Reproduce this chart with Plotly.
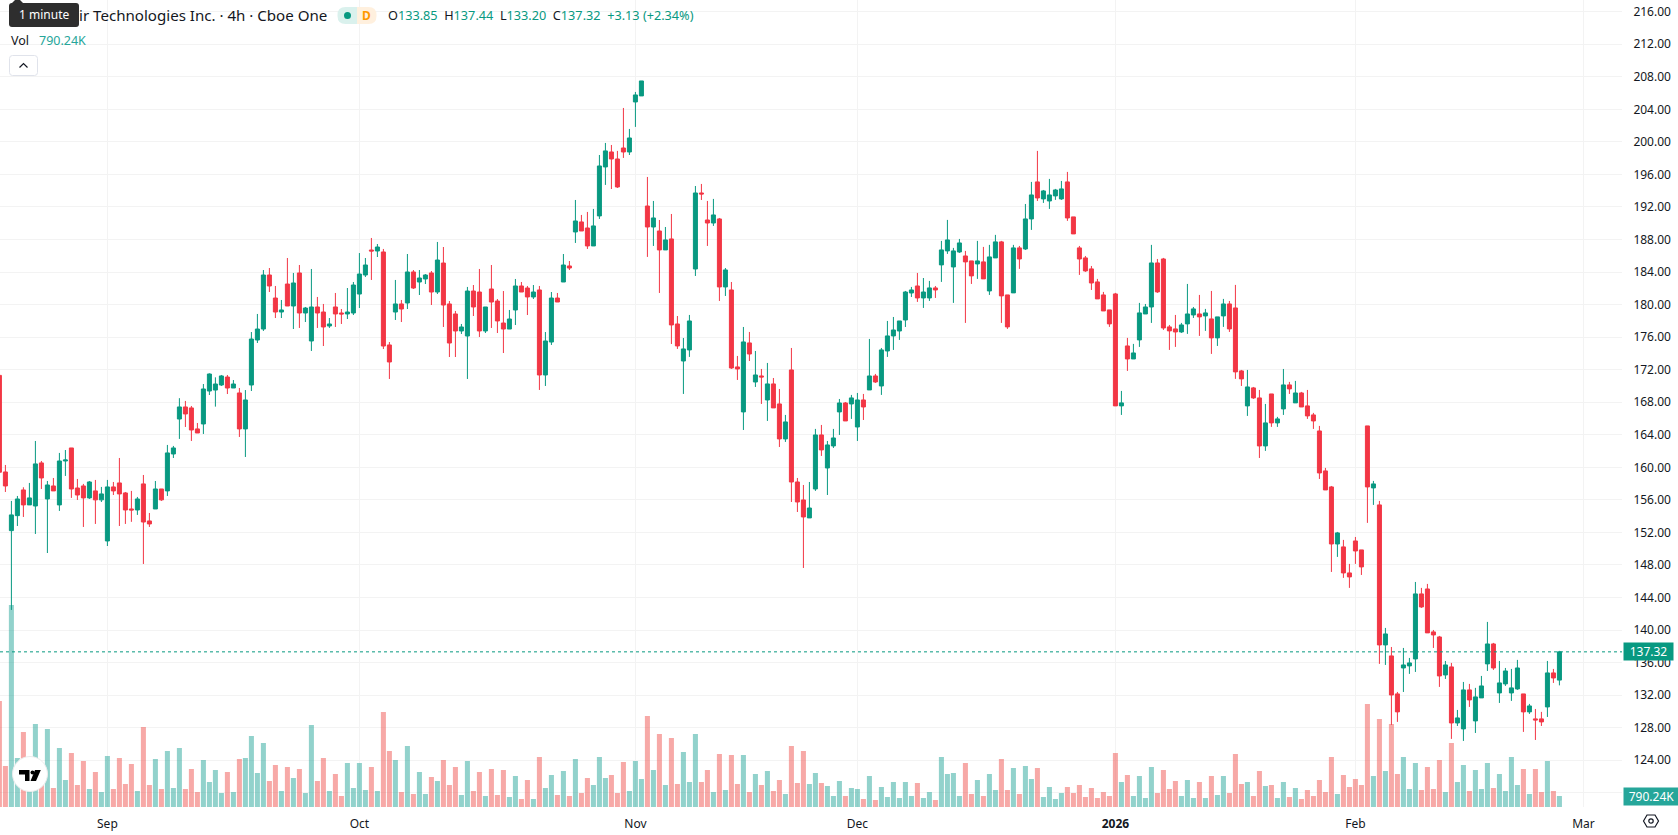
import plotly.graph_objects as go

# 4h bars, oldest first
opens = [
171.3,159.43,152.22,154.06,157.22,155.38,155.25,160.54,156.11,157.71,
155.38,160.78,162.38,157.46,157.71,156.24,157.1,156.0,150.95,157.59,
158.08,156.85,154.88,154.76,157.96,153.41,154.88,157.34,157.1,161.64,
165.94,167.42,167.3,164.72,165.33,169.38,169.5,170.12,171.1,169.75,
169.14,164.72,170.12,175.65,177.0,183.64,180.81,179.09,182.53,179.83,
183.89,178.97,175.53,179.71,179.09,177.37,179.71,178.97,178.85,178.97,
181.3,183.64,186.71,186.59,186.47,175.04,179.09,180.08,180.2,184.01,
182.78,183.15,183.89,181.55,185.11,180.08,178.85,176.76,176.14,181.67,
181.55,176.76,181.92,180.44,177.74,177.0,179.34,182.29,182.04,180.94,
181.8,171.35,175.4,180.81,182.78,184.75,188.93,190.16,189.42,187.21,
190.9,196.92,198.76,197.9,199.25,198.76,204.91,205.65,192.12,189.54,
189.05,186.72,188.07,177.62,173.07,174.43,184.38,193.72,190.4,190.03,
190.53,182.17,181.8,172.34,166.81,175.29,170.49,171.23,168.28,170.25,
167.79,163.49,171.97,158.2,155.99,153.78,157.34,163.98,159.92,162.63,
166.81,167.91,167.79,164.96,168.28,169.51,171.23,170.0,174.3,176.15,
176.76,178.11,181.43,182.29,180.82,180.82,182.05,184.88,186.6,184.63,
186.47,185.98,185.37,185.0,185.25,181.68,185.74,187.71,181.19,181.44,
186.97,186.84,190.53,195.08,192.99,192.74,193.36,192.99,195.08,190.78,
186.97,185.74,184.39,182.79,181.19,179.35,181.31,167.55,174.92,173.32,
175.66,178.85,179.71,185.12,185.61,177.26,177.01,176.64,177.63,178.73,
178.85,178.61,178.24,175.91,178.61,180.08,179.59,171.85,167.55,169.76,
168.53,162.63,169.02,165.46,167.18,170.13,167.92,169.14,167.55,166.44,
164.47,159.56,157.59,150.58,150.22,147.02,150.95,149.85,165.09,157.47,
155.38,138.17,136.82,132.15,135.34,135.59,136.45,144.44,145.05,139.77,
139.15,134.48,135.47,128.58,127.85,132.64,128.83,131.66,135.84,138.29,
132.27,133.38,132.27,132.76,132.15,129.94,129.08,129.08,130.55,134.73,
133.85]

highs = [
171.3,160.29,155.87,156.48,157.55,158.08,163.24,160.78,158.32,158.69,
161.77,162.13,162.38,158.57,157.96,158.32,158.45,157.59,158.45,158.2,
161.15,156.97,157.1,156.36,159.06,154.39,158.32,157.34,162.75,162.63,
168.5,168.16,167.54,165.45,170.24,171.55,171.06,171.35,171.35,170.73,
169.75,169.5,176.63,178.85,184.25,184.5,182.29,180.57,185.73,183.89,
184.87,179.71,184.38,180.94,180.08,178.35,181.43,179.46,182.04,182.78,
186.34,185.73,188.19,187.45,186.84,175.4,183.03,180.57,186.22,184.25,
184.25,183.76,184.13,187.7,187.08,180.44,179.22,177.62,182.17,182.41,
184.38,179.71,184.87,180.69,181.67,179.34,183.15,182.78,182.29,182.41,
182.29,176.63,181.55,181.43,186.22,185.36,192.86,191.02,191.39,191.76,
198.39,199.87,199.62,198.89,204.17,201.59,206.14,207.49,195.69,192.74,
190.4,189.54,191.14,178.6,175.9,178.73,194.58,194.83,192.74,192.99,
190.65,184.5,182.78,173.69,177.25,176.64,174.3,172.09,172.83,170.98,
169.63,166.44,174.67,158.69,157.83,158.2,164.72,165.21,163.24,164.72,
168.4,168.03,168.9,169.14,169.02,175.78,171.48,174.67,177.99,178.48,
177.99,181.68,182.17,183.89,183.27,182.91,182.29,187.83,190.41,186.97,
188.07,186.6,185.37,187.83,187.09,187.34,188.57,187.83,181.19,187.34,
187.21,192.37,195.08,198.89,194.09,195.45,194.22,195.2,196.31,190.78,
187.21,185.98,184.75,183.16,181.56,179.35,181.44,169.39,175.91,175.17,
180.21,180.08,187.34,185.61,185.74,177.5,178.73,177.75,182.54,179.71,
181.19,179.47,181.68,178.49,180.7,180.45,182.42,171.97,171.97,169.88,
169.51,167.79,169.02,166.2,172.09,170.5,170.62,169.27,169.51,166.69,
165.09,159.93,157.71,152.06,151.08,148.13,151.44,149.85,165.09,158.33,
155.87,140.26,137.92,132.39,137.8,136.57,145.91,145.18,145.67,140.01,
139.28,136.2,135.96,130.18,133.62,133.38,132.89,134.36,141.0,138.42,
136.2,135.34,135.22,136.33,132.15,130.92,130.3,129.94,136.2,135.22,
137.44]

lows = [
159.0,156.97,142.47,152.79,153.9,155.38,151.81,157.34,149.47,157.1,
154.64,158.94,156.24,155.99,152.67,156.11,153.04,155.74,150.33,156.6,
152.79,153.04,153.3,154.15,148.12,152.67,154.88,155.87,156.48,161.15,
163.49,164.96,163.24,164.22,164.1,168.89,167.46,170.0,169.01,169.75,
163.73,161.27,169.38,175.28,176.76,181.55,178.35,178.35,179.83,177.0,
177.13,177.86,174.3,177.13,174.91,177.13,177.25,177.62,178.23,178.72,
179.58,183.39,183.03,185.85,174.54,170.86,178.11,177.86,179.46,181.92,
181.18,182.53,179.95,181.3,177.25,173.56,173.56,176.39,170.86,178.6,
176.02,176.51,177.13,176.51,174.05,177.0,177.49,181.55,178.72,180.69,
169.51,170.0,175.04,180.32,182.78,184.25,187.58,189.05,186.84,187.21,
190.53,194.71,194.21,194.34,198.03,198.39,201.84,205.65,185.86,187.21,
181.43,186.72,175.16,174.55,169.02,173.57,183.52,192.86,187.21,189.67,
180.45,181.06,172.09,170.74,164.59,173.07,169.88,167.79,165.7,167.3,
162.5,163.12,155.74,154.51,147.63,153.78,157.1,161.4,156.6,162.38,
163.98,165.7,165.95,163.24,165.82,169.51,170.37,168.9,173.57,174.43,
175.66,177.25,180.94,180.33,179.59,180.45,180.82,182.79,186.23,180.21,
186.35,177.75,182.54,183.16,183.16,181.19,185.74,177.75,177.01,181.44,
184.39,186.72,189.18,192.74,192.5,191.76,192.87,192.87,190.29,188.69,
183.65,184.02,181.8,180.7,179.22,177.26,167.55,166.44,171.85,173.32,
174.8,178.85,177.75,181.44,176.89,174.43,174.8,176.52,176.4,178.36,
176.15,176.77,173.94,174.92,177.26,176.64,170.87,170.0,166.32,168.41,
161.15,162.02,164.97,164.97,166.44,169.02,167.92,167.42,165.95,164.72,
158.57,157.22,147.14,148.99,146.41,145.18,148.13,146.77,153.17,155.38,
135.84,135.71,128.34,128.71,132.39,134.61,134.85,142.72,139.65,137.8,
133.01,133.99,126.62,128.21,126.37,130.55,127.35,131.66,134.97,135.1,
131.04,133.13,131.29,132.64,127.48,129.69,126.49,128.21,129.32,133.5,
133.2]

closes = [
159.4,157.71,154.15,156.11,155.38,156.24,160.42,158.69,157.83,157.1,
160.78,160.9,157.34,156.6,156.24,158.2,156.0,156.73,157.59,157.1,
156.73,154.76,154.76,156.11,153.28,153.04,157.34,156.0,161.77,162.38,
167.42,166.56,164.59,164.22,169.63,171.47,170.24,171.23,169.75,170.24,
164.72,168.28,175.77,177.0,183.64,182.29,179.09,179.34,179.83,182.66,
178.97,179.58,179.71,178.97,177.25,177.62,178.85,178.85,179.09,182.41,
183.76,184.87,186.59,187.08,174.91,172.95,180.08,179.46,184.01,182.04,
183.27,183.64,181.55,185.48,179.95,175.28,176.76,177.25,181.67,179.71,
176.76,179.71,180.32,177.99,177.0,178.23,182.29,181.55,180.94,181.55,
171.35,175.53,180.81,180.32,184.87,184.5,190.28,189.05,187.21,189.67,
197.04,198.89,197.9,194.46,198.76,200.48,205.77,207.49,189.54,190.65,
186.72,187.95,177.5,174.92,174.55,177.99,193.72,193.6,190.03,191.02,
182.17,184.26,172.21,172.09,175.41,173.93,171.35,171.11,170.25,167.3,
163.49,165.58,158.2,155.74,153.9,155.0,163.98,162.14,162.75,163.61,
167.91,165.7,168.53,168.28,167.42,171.23,170.49,174.43,176.15,176.88,
177.99,181.55,181.8,180.82,181.55,182.05,181.8,186.72,187.95,186.6,
187.58,185.25,183.53,185.37,183.16,185.86,187.71,181.07,177.26,186.97,
185.61,190.53,193.48,193.11,193.97,193.48,194.09,194.22,190.65,188.69,
185.61,184.14,182.66,180.7,179.22,177.63,167.55,167.92,173.32,174.06,
178.98,179.71,185.12,181.56,177.13,176.77,176.64,177.5,178.85,179.47,
178.49,178.98,175.91,178.49,180.08,177.01,171.73,170.87,169.88,168.53,
162.63,165.46,165.46,165.95,170.13,169.64,169.14,167.42,166.32,165.7,
159.31,157.22,150.58,151.94,147.02,146.53,149.72,147.76,157.59,157.96,
138.17,139.52,132.02,129.94,135.71,135.96,144.44,142.84,139.65,139.4,
134.36,135.71,128.58,129.2,132.64,131.41,131.78,133.13,138.29,135.34,
133.5,134.97,132.89,135.34,129.94,130.67,128.95,128.71,134.73,134.11,
137.32]

# Volume per bar, in thousands of shares
volumes = [
7632,2952,14544,3528,5400,1584,5976,2184,5616,1368,
4248,1944,3888,1584,3312,1296,2520,1080,3672,1296,
3528,1656,3096,1152,5760,1584,3456,1296,4032,1368,
4248,1296,2736,1080,3384,1800,2664,1008,2520,1080,
3456,3528,5112,2448,4608,1872,3024,1152,2880,2088,
2736,1008,5904,1872,3528,1152,2376,792,3168,1368,
3168,1224,2880,1152,6840,4032,3384,1080,4392,936,
2520,936,2160,1872,3384,1584,2880,864,3312,1152,
2520,792,2736,864,2664,720,2232,576,1944,576,
3600,1368,2304,864,2592,792,3456,1008,2088,1584,
3600,2088,2304,1008,3240,1152,3312,2016,6552,2664,
5256,1584,4968,1656,3960,1800,5256,1800,2664,1080,
3816,1224,3744,1656,3744,1080,2376,1584,2592,1152,
1944,936,4392,1728,4032,1656,2448,1728,1512,792,
1872,792,1368,1296,576,2232,504,1440,720,1800,
648,1800,792,1728,648,1080,504,3600,2376,2448,
792,3168,936,1944,792,2376,1224,3456,1224,2808,
936,2952,2016,2808,720,1440,576,1008,1440,1008,
1584,720,1368,648,1080,792,3888,1800,2304,792,
2232,648,2880,1008,2664,1296,1872,792,1944,648,
1800,648,2232,864,2232,1008,3816,1656,1800,792,
2592,1512,1584,648,1800,720,1368,576,1224,792,
1944,1080,3600,936,2304,1440,2016,1584,7416,2232,
6336,2592,5976,2376,3600,1296,3168,1224,2880,1296,
3384,1080,4608,1800,3024,1152,2664,1296,3168,1368,
2376,1152,3600,1584,2736,936,2736,1080,3312,1152,
790.24]

assert len(opens) == len(highs) == len(lows) == len(closes) == len(volumes) == 261

bar_index = list(range(len(opens)))

month_positions = [18, 60, 106, 143, 186, 226, 264]
month_labels = ["Sep", "Oct", "Nov", "Dec", "<b>2026</b>", "Feb", "Mar"]
price_ticks = list(range(120, 217, 4))
price_labels = ["" if p == 120 else f"{p}.00" for p in price_ticks]

last_close = closes[-1]

UP = "#089981"
DOWN = "#F23645"
VOL_UP = "rgba(38,166,154,0.5)"
VOL_DOWN = "rgba(239,83,80,0.5)"
TEXT = "#131722"
GRID = "#f3f3f3"
FONT = "Noto Sans, sans-serif"

WIDTH, HEIGHT = 1678, 835
PANE_W, PANE_H = 1622, 807


def px(x):
    return x / PANE_W


def py(y):
    return 1 - y / PANE_H


def rounded_path(x0, y0, x1, y1, r_left, r_right):
    """Rounded rectangle in pane pixels, returned as a paper-space SVG path."""
    return (
        f"M{px(x0 + r_left)},{py(y0)} L{px(x1 - r_right)},{py(y0)} "
        f"Q{px(x1)},{py(y0)} {px(x1)},{py(y0 + r_right)} "
        f"L{px(x1)},{py(y1 - r_right)} Q{px(x1)},{py(y1)} {px(x1 - r_right)},{py(y1)} "
        f"L{px(x0 + r_left)},{py(y1)} Q{px(x0)},{py(y1)} {px(x0)},{py(y1 - r_left)} "
        f"L{px(x0)},{py(y0 + r_left)} Q{px(x0)},{py(y0)} {px(x0 + r_left)},{py(y0)} Z"
    )


def poly_path(points, close=True):
    body = " L".join(f"{px(a)},{py(b)}" for a, b in points)
    return "M" + body + (" Z" if close else "")


def paper_shape(path, fill="rgba(0,0,0,0)", line=None, width=0):
    return dict(
        type="path", xref="paper", yref="paper", path=path, fillcolor=fill,
        line=dict(color=line or "rgba(0,0,0,0)", width=width), layer="above",
    )


fig = go.Figure()

# Volume stays on the base axis so the candles draw over it
fig.add_trace(go.Bar(
    x=bar_index, y=volumes, width=0.84, yaxis="y",
    marker=dict(color=[VOL_UP if c >= o else VOL_DOWN for o, c in zip(opens, closes)],
                line=dict(width=0)),
    hoverinfo="skip", showlegend=False,
))

fig.add_trace(go.Candlestick(
    x=bar_index, open=opens, high=highs, low=lows, close=closes, yaxis="y2",
    whiskerwidth=0,
    increasing=dict(line=dict(color=UP, width=1), fillcolor=UP),
    decreasing=dict(line=dict(color=DOWN, width=1), fillcolor=DOWN),
    showlegend=False,
))

shapes = [
    # last price line
    dict(type="line", xref="paper", yref="y2", x0=0, x1=1, y0=last_close, y1=last_close,
         line=dict(color=UP, width=1, dash="dot"), layer="above"),
    # status pill
    paper_shape(rounded_path(337.5, 7, 357, 24, 8, 0), fill="#daf1ed"),
    paper_shape(rounded_path(357, 7, 376.5, 24, 0, 8), fill="#fff0de"),
    dict(type="circle", xref="paper", yref="paper", x0=px(344), x1=px(351), y0=py(19), y1=py(12),
         fillcolor=UP, line=dict(width=0), layer="above"),
    # collapse button
    paper_shape(rounded_path(9.5, 55.5, 37.5, 75.5, 3, 3), fill="#ffffff", line="#e0e3eb", width=1),
    paper_shape(poly_path([(19.5, 67.5), (23.5, 63.5), (27.5, 67.5)], close=False), line="#131722", width=1.2),
    # hint bubble
    paper_shape(rounded_path(9, 3, 79, 27, 3, 3), fill="#2e2e2e"),
    paper_shape(poly_path([(11, 4), (15, 0), (20, 0), (24, 4)]), fill="#2e2e2e"),
    # round logo badge
    dict(type="circle", xref="paper", yref="paper", x0=px(12.5), x1=px(47.5), y0=py(791.5), y1=py(756.5),
         fillcolor="#ffffff", line=dict(color="#ececec", width=1), layer="above"),
    paper_shape(poly_path([(19, 770), (29.5, 770), (29.5, 781), (25, 781), (25, 774.5), (19, 774.5)]), fill="#000000"),
    paper_shape(poly_path([(35, 770), (40.8, 770), (36, 781), (30.5, 781)]), fill="#000000"),
    dict(type="circle", xref="paper", yref="paper", x0=px(30.5), x1=px(34.5), y0=py(774.5), y1=py(770.5),
         fillcolor="#000000", line=dict(width=0), layer="above"),
    # settings glyph
    paper_shape(poly_path([(1643.5, 821), (1647, 815), (1655, 815), (1658.5, 821), (1655, 827), (1647, 827)]),
                line="#131722", width=1.2),
    dict(type="circle", xref="paper", yref="paper", x0=px(1648.8), x1=px(1653.2), y0=py(823.2), y1=py(818.8),
         line=dict(color="#131722", width=1.2), layer="above"),
]


def note(text, x, y, size=13, color=TEXT, anchor="left", **extra):
    return dict(text=text, xref="paper", yref="paper", x=px(x), y=py(y), xanchor=anchor,
                yanchor="middle", showarrow=False, font=dict(family=FONT, size=size, color=color), **extra)


def span(text, color):
    return f'<span style="color:{color}">{text}</span>'


ohlc_text = (
    "O" + span(f"{opens[-1]:.2f}", UP) + "  H" + span(f"{highs[-1]:.2f}", UP)
    + "  L" + span(f"{lows[-1]:.2f}", UP) + "  C" + span(f"{closes[-1]:.2f}", UP)
    + "  " + span("+3.13 (+2.34%)", UP)
)

annotations = [
    note("ir Technologies Inc. · 4h · Cboe One", 329, 15.5, size=15.1, anchor="right"),
    note("1 minute", 44, 15, size=12, color="#ffffff", anchor="center"),
    note("<b>D</b>", 366.5, 15.5, size=12, color="#ff9800", anchor="center"),
    note(ohlc_text, 386, 15.5, size=12.7),
    note("Vol", 9, 40.5, size=12.5),
    note("790.24K", 36.5, 40.5, size=12.5, color="#26a69a"),
    dict(text="137.32", xref="paper", yref="y2", x=1, y=last_close, xanchor="left", yanchor="middle",
         xshift=1, showarrow=False, bgcolor=UP, width=49, height=17, borderpad=0, align="center",
         font=dict(family=FONT, size=12, color="#ffffff")),
    dict(text="790.24K", xref="paper", yref="y", x=1, y=volumes[-1], xanchor="left", yanchor="middle",
         xshift=1, showarrow=False, bgcolor="#26a69a", width=55, height=17, borderpad=0, align="center",
         font=dict(family=FONT, size=12, color="#ffffff")),
]

fig.update_layout(
    width=WIDTH, height=HEIGHT,
    margin=dict(l=0, r=WIDTH - PANE_W, t=0, b=HEIGHT - PANE_H),
    paper_bgcolor="#ffffff", plot_bgcolor="#ffffff",
    font=dict(family=FONT, size=12, color=TEXT),
    showlegend=False, boxgap=0.33, boxgroupgap=0,
    xaxis=dict(
        type="linear", range=[0.1, 270.43], rangeslider=dict(visible=False),
        tickmode="array", tickvals=month_positions, ticktext=month_labels,
        showgrid=True, gridcolor=GRID, gridwidth=1, zeroline=False, showline=False,
        ticks="outside", ticklen=6, tickcolor="rgba(0,0,0,0)",
    ),
    yaxis=dict(
        range=[0, 58104], visible=False, showgrid=False, zeroline=False,
    ),
    yaxis2=dict(
        overlaying="y", side="right", range=[118.25, 217.44],
        tickmode="array", tickvals=price_ticks, ticktext=price_labels,
        showgrid=True, gridcolor=GRID, gridwidth=1, zeroline=False, showline=False,
        ticks="outside", ticklen=8, tickcolor="rgba(0,0,0,0)",
    ),
    shapes=shapes, annotations=annotations,
)

fig.write_html("out.html")
